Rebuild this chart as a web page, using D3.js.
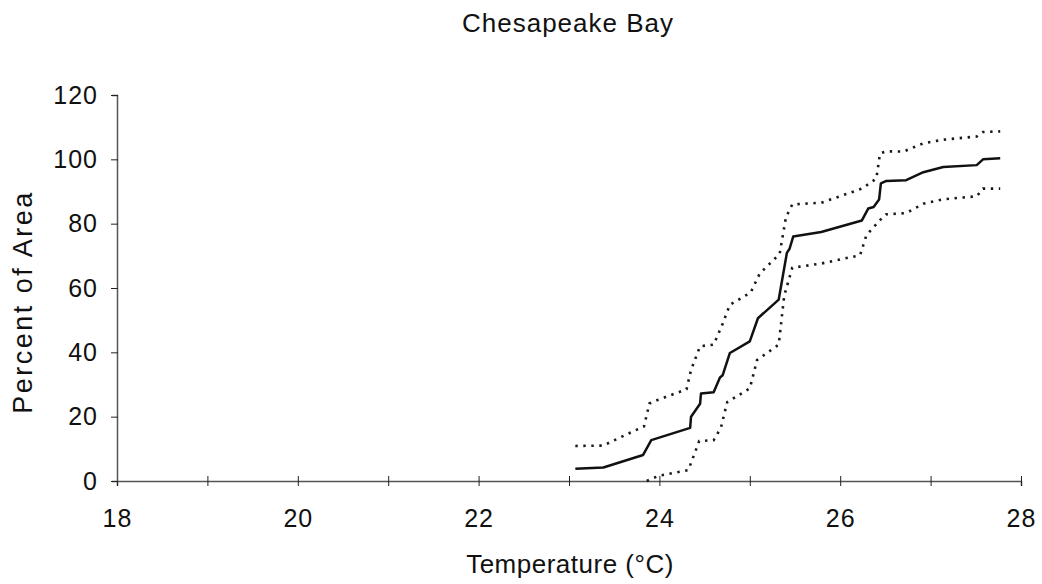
<!DOCTYPE html>
<html>
<head>
<meta charset="utf-8">
<script src="https://cdn.jsdelivr.net/npm/d3@7"></script>
<style>
  body { margin: 0; background: #fff; }
  text { font-family: "Liberation Sans", Arial, Helvetica, sans-serif; fill: #111; }
</style>
</head>
<body>
<div id="chart"></div>
<script>
"use strict";
(function() {

const WIDTH = 1042
const HEIGHT = 584

const TITLE = "Chesapeake Bay"
const X_TITLE = "Temperature (°C)"
const Y_TITLE = "Percent of Area"

const X_TICKS = [18, 19, 20, 21, 22, 23, 24, 25, 26, 27, 28]
const Y_TICKS = [0, 20, 40, 60, 80, 100, 120]

// mean curve
const meanTemp = [23.07, 23.38, 23.82, 23.91, 24.34, 24.35, 24.45, 24.46, 24.60, 24.67, 24.70,
    24.78, 25.00, 25.09, 25.32, 25.41, 25.44, 25.48, 25.79, 26.24, 26.31, 26.37, 26.43,
    26.45, 26.51, 26.73, 26.92, 27.14, 27.51, 27.58, 27.77]
const meanPct = [3.8, 4.2, 8.1, 12.7, 16.5, 20.0, 24.0, 27.2, 27.6, 32.2, 32.9,
    39.8, 43.4, 50.6, 56.4, 70.9, 72.2, 76.0, 77.4, 81.0, 84.7, 85.2, 87.5,
    92.5, 93.3, 93.5, 96.0, 97.6, 98.2, 100.0, 100.3]

// upper bound (dotted)
const upperTemp = [23.07, 23.38, 23.45, 23.83, 23.89, 23.98, 24.30, 24.35, 24.45, 24.60, 24.69,
    24.78, 25.01, 25.11, 25.33, 25.40, 25.47, 25.79, 26.24, 26.40, 26.44, 26.51, 26.70,
    26.92, 27.14, 27.51, 27.58, 27.77]
const upperPct = [10.9, 11.0, 12.0, 17.0, 24.1, 25.2, 28.5, 34.5, 41.9, 42.4, 48.2,
    54.8, 58.6, 64.5, 70.6, 82.0, 86.0, 86.5, 90.9, 94.0, 101.8, 102.5, 102.4,
    105.0, 106.1, 107.1, 108.5, 108.7]

// lower bound (dotted)
const lowerTemp = [23.86, 23.99, 24.32, 24.44, 24.60, 24.68, 24.75, 25.00, 25.08, 25.32, 25.38,
    25.47, 25.79, 26.22, 26.29, 26.44, 26.51, 26.73, 26.92, 27.14, 27.51, 27.58, 27.77]
const lowerPct = [0.0, 1.6, 3.4, 12.4, 12.7, 16.5, 24.5, 28.8, 37.6, 42.4, 57.5,
    66.3, 67.6, 70.2, 76.4, 81.1, 82.9, 83.3, 86.2, 87.6, 88.5, 90.9, 90.9]

const x_scale = d3.scaleLinear().domain([18, 28]).range([117, 1021])
const y_scale = d3.scaleLinear().domain([0, 120]).range([481, 95])

const svg = d3.select("#chart").append("svg")
    .attr("width", WIDTH)
    .attr("height", HEIGHT)

const line = d3.line()
    .x(d => x_scale(d[0]))
    .y(d => y_scale(d[1]))

// axes
const xAxis = svg.append("g")
    .attr("transform", `translate(0, ${y_scale(0)})`)
    .call(d3.axisBottom(x_scale)
        .tickValues(X_TICKS)
        .tickSize(5)
        .tickFormat(d => d % 2 === 0 ? d : ""))

xAxis.select(".domain").attr("stroke", "#555").attr("stroke-width", 1.5)
xAxis.selectAll(".tick line").attr("y1", -5).attr("y2", 5).attr("stroke", "#222")
xAxis.selectAll(".tick text")
    .attr("y", 28)
    .attr("dy", "0.71em")
    .style("font-size", "25px")
    .style("letter-spacing", "1px")
    .style("font-family", "'Liberation Sans', Arial, sans-serif")
    .attr("fill", "#111")

const yAxis = svg.append("g")
    .attr("transform", `translate(${x_scale(18)}, 0)`)
    .call(d3.axisLeft(y_scale)
        .tickValues(Y_TICKS)
        .tickSize(5)
        .tickPadding(14))

yAxis.select(".domain").attr("stroke", "#555").attr("stroke-width", 1.5)
yAxis.selectAll(".tick line").attr("x1", -6).attr("x2", 1).attr("stroke", "#222")
yAxis.selectAll(".tick text")
    .style("font-size", "25px")
    .style("letter-spacing", "1px")
    .style("font-family", "'Liberation Sans', Arial, sans-serif")
    .attr("fill", "#111")

// curves
function dotted(temps, pcts) {
    svg.append("path")
        .attr("class", "curve")
        .attr("d", line(d3.zip(temps, pcts)))
        .style("fill", "none")
        .style("stroke", "#1a1a1a")
        .style("stroke-width", 2.6)
        .style("stroke-dasharray", "2.4,5.6")
}

dotted(upperTemp, upperPct)
dotted(lowerTemp, lowerPct)

svg.append("path")
    .attr("class", "curve")
    .attr("d", line(d3.zip(meanTemp, meanPct)))
    .style("fill", "none")
    .style("stroke", "#111")
    .style("stroke-width", 2.5)
    .style("stroke-linejoin", "round")

// titles
svg.append("text")
    .attr("x", 568)
    .attr("y", 32)
    .attr("text-anchor", "middle")
    .style("font-size", "26px")
    .style("letter-spacing", "1px")
    .text(TITLE)

svg.append("text")
    .attr("x", 570)
    .attr("y", 573)
    .attr("text-anchor", "middle")
    .style("font-size", "26px")
    .style("letter-spacing", "0.5px")
    .text(X_TITLE)

svg.append("text")
    .attr("transform", "translate(32, 302) rotate(-90)")
    .attr("text-anchor", "middle")
    .style("font-size", "27px")
    .style("letter-spacing", "2.5px")
    .text(Y_TITLE)

})();
</script>
</body>
</html>
